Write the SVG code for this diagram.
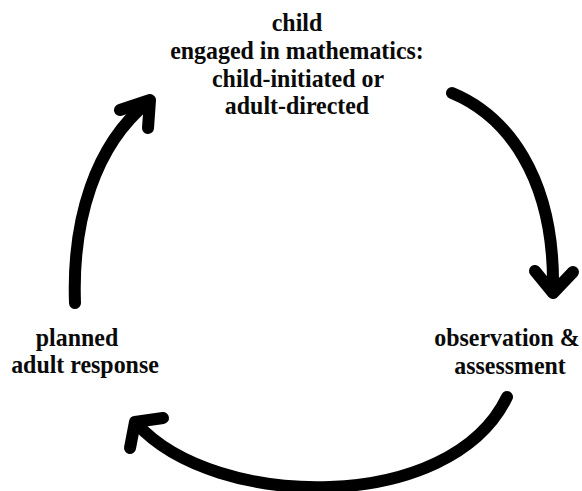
<svg xmlns="http://www.w3.org/2000/svg" width="582" height="491" viewBox="0 0 582 491">
<style>
.lbl{font-family:"Liberation Serif","Times New Roman",serif;font-weight:bold;font-size:26px;fill:#0a0a0a;text-anchor:middle}
.arr{fill:none;stroke:#000;stroke-width:12;stroke-linecap:round;stroke-linejoin:round}
</style>
<rect width="582" height="491" fill="#fff"/>
<g id="node-child">
<text class="lbl" transform="translate(297,31) scale(0.92,1)">child</text>
<text class="lbl" transform="translate(297,59) scale(0.92,1)">engaged in mathematics:</text>
<text class="lbl" transform="translate(298,87) scale(0.92,1)">child-initiated or</text>
<text class="lbl" transform="translate(297,114) scale(0.92,1)">adult-directed</text>
</g>
<g id="node-observation">
<text class="lbl" transform="translate(507,346) scale(0.92,1)">observation &amp;</text>
<text class="lbl" transform="translate(510,374) scale(0.92,1)">assessment</text>
</g>
<g id="node-planned">
<text class="lbl" transform="translate(77,346) scale(0.92,1)">planned</text>
<text class="lbl" transform="translate(85,373) scale(0.92,1)">adult response</text>
</g>
<g id="connectors">
<path class="arr" d="M452,93 C505,115 555,175 553,290"/>
<path class="arr" d="M535,271 L553,293 L573,272"/>
<path class="arr" d="M507,397 C450,515 215,510 137,424"/>
<path class="arr" d="M163,418 L135,422 L130,448"/>
<path class="arr" d="M75,303 C72,220 95,145 148,102"/>
<path class="arr" d="M120,110 L150,100 L148,128"/>
</g>
</svg>
